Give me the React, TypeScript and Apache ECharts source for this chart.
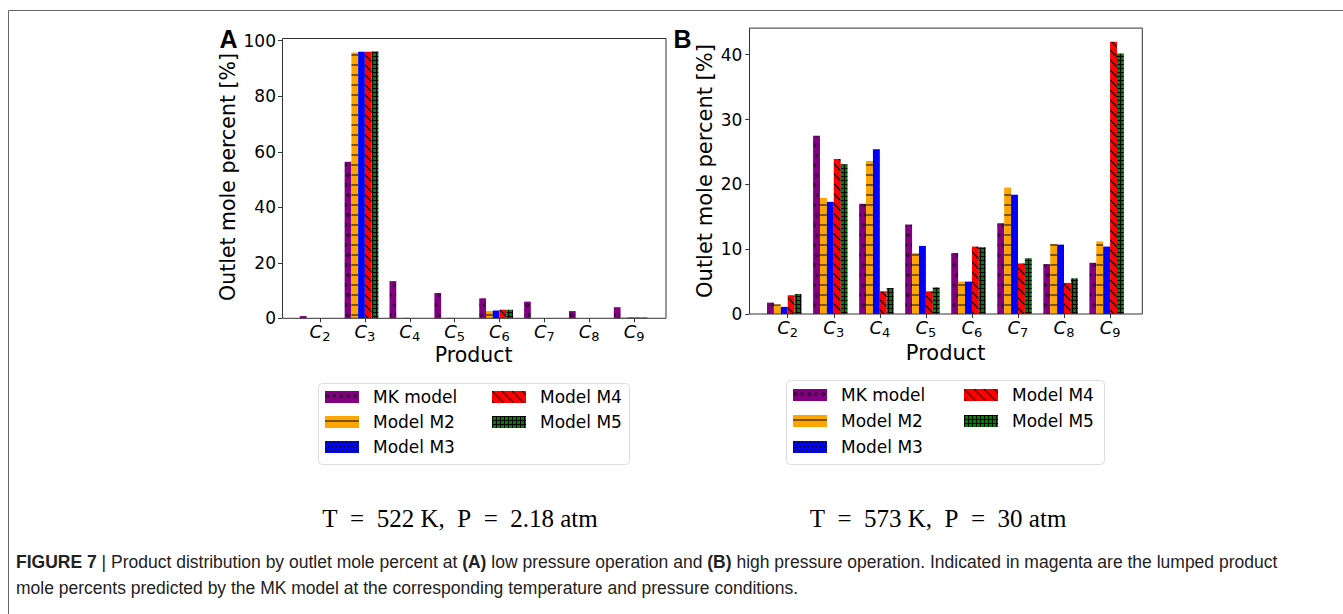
import React, { useEffect, useRef } from "react";
import * as echarts from "echarts";

// ---------- data ----------
const categories = ["C2", "C3", "C4", "C5", "C6", "C7", "C8", "C9"];
const seriesNames = ["MK model", "Model M2", "Model M3", "Model M4", "Model M5"];
const seriesColors = ["#800080", "#FFA500", "#0000FF", "#FF0000", "#008000"];

// (A) T = 522 K, P = 2.18 atm
const lowMK = [0.8, 56.4, 13.4, 9.1, 7.2, 6.0, 2.6, 4.0];
const lowM2 = [0, 95.8, 0.15, 0.15, 2.6, 0, 0, 0.3];
const lowM3 = [0, 96.0, 0.15, 0.15, 2.8, 0, 0, 0.3];
const lowM4 = [0, 96.0, 0, 0, 3.1, 0, 0, 0.3];
const lowM5 = [0, 96.1, 0, 0, 3.1, 0, 0, 0.3];
const lowTicks = [0, 20, 40, 60, 80, 100];
const lowMax = 100.8;

// (B) T = 573 K, P = 30 atm
const highMK = [1.75, 27.5, 17.0, 13.8, 9.4, 14.0, 7.7, 7.9];
const highM2 = [1.5, 17.9, 23.6, 9.4, 5.0, 19.5, 10.8, 11.2];
const highM3 = [1.1, 17.3, 25.4, 10.5, 5.0, 18.4, 10.7, 10.4];
const highM4 = [2.9, 23.9, 3.5, 3.5, 10.4, 7.8, 4.8, 42.0];
const highM5 = [3.1, 23.1, 4.0, 4.1, 10.3, 8.6, 5.5, 40.2];
const highTicks = [0, 10, 20, 30, 40];
const highMax = 44.1;

const conditionA = "T\u2002=\u2002522 K,\u2002P\u2002=\u20022.18 atm";
const conditionB = "T\u2002=\u2002573 K,\u2002P\u2002=\u200230 atm";

// ---------- hatch patterns (tile SVGs) ----------
const hatchTiles: { w: number; h: number; body: string }[] = [
  // MK model: sparse small open circles
  {
    w: 7,
    h: 20,
    body:
      "<circle cx='2.3' cy='5' r='1.4' fill='none' stroke='#000' stroke-width='0.8'/>" +
      "<circle cx='4.7' cy='15' r='1.4' fill='none' stroke='#000' stroke-width='0.8'/>",
  },
  // M2: horizontal lines
  { w: 8, h: 10, body: "<rect x='0' y='4.5' width='8' height='1' fill='#000'/>" },
  // M3: dots
  {
    w: 4,
    h: 8,
    body: "<rect x='0.8' y='1' width='1.1' height='1.1' fill='#000'/><rect x='2.8' y='5' width='1.1' height='1.1' fill='#000'/>",
  },
  // M4: back-slash diagonals
  { w: 10, h: 10, body: "<path d='M0,0L10,10M-2,8L2,12M8,-2L12,2' stroke='#000' stroke-width='1.1'/>" },
  // M5: dense plus grid
  { w: 4, h: 4, body: "<path d='M0,0.5H4M0.5,0V4' stroke='#000' stroke-width='1'/>" },
];

function hatchPattern(k: number) {
  const t = hatchTiles[k];
  const svg =
    `<svg xmlns='http://www.w3.org/2000/svg' width='${t.w}' height='${t.h}' viewBox='0 0 ${t.w} ${t.h}'>` +
    `<rect width='${t.w}' height='${t.h}' fill='${seriesColors[k]}'/>` +
    t.body +
    `</svg>`;
  return {
    image: "data:image/svg+xml;charset=utf-8," + encodeURIComponent(svg),
    repeat: "repeat",
    imageWidth: t.w,
    imageHeight: t.h,
  };
}

const FONT = "DejaVu Sans";

function buildOption() {
  const panels = [
    { data: [lowMK, lowM2, lowM3, lowM4, lowM5], ticks: lowTicks, max: lowMax, grid: { left: 297.6, top: 38.5, width: 358.9, height: 279.8 }, offset: 15.6, barWidth: 6.75, labelMargin: 6 },
    { data: [highMK, highM2, highM3, highM4, highM5], ticks: highTicks, max: highMax, grid: { left: 764.7, top: 28.1, width: 368.4, height: 285.9 }, offset: 15.4, barWidth: 6.9, labelMargin: 7 },
  ];

  const grid = panels.map((p) => ({ ...p.grid, containLabel: false }));
  const xAxis = panels.map((p, i) => ({
    type: "category",
    gridIndex: i,
    data: categories,
    boundaryGap: true,
    axisLine: { show: false },
    axisTick: { show: true, alignWithLabel: true, length: 4, lineStyle: { color: "#333" } },
    axisLabel: {
      interval: 0,
      margin: 4,
      formatter: (v: string) => `{c|${v.slice(0, 1)}}{s|${v.slice(1)}}`,
      rich: {
        c: { fontFamily: FONT, fontStyle: "italic", fontSize: 18, lineHeight: 18, color: "#000", verticalAlign: "top" },
        s: { fontFamily: FONT, fontSize: 13, lineHeight: 10, color: "#000", verticalAlign: "top", padding: [8, 0, 0, 0] },
      },
    },
    splitLine: { show: false },
  }));
  const yAxis = panels.map((p, i) => ({
    type: "value",
    gridIndex: i,
    min: 0,
    max: p.max,
    offset: p.offset,
    axisLine: { show: false },
    axisTick: { show: true, length: 4, lineStyle: { color: "#333" }, customValues: p.ticks },
    axisLabel: { customValues: p.ticks, fontFamily: FONT, fontSize: 17, color: "#000", margin: p.labelMargin },
    splitLine: { show: false },
  }));

  const patterns = seriesNames.map((_, k) => hatchPattern(k));

  const series: any[] = [];
  panels.forEach((p, i) => {
    p.data.forEach((vals, k) => {
      series.push({
        type: "bar",
        name: seriesNames[k],
        xAxisIndex: i,
        yAxisIndex: i,
        data: vals,
        barWidth: p.barWidth,
        barGap: "0%",
        silent: true,
        itemStyle: { color: patterns[k] },
      });
    });
    // empty slot: keeps the tick just right of the group centre, as in the original
    series.push({
      type: "bar",
      name: "_pad",
      xAxisIndex: i,
      yAxisIndex: i,
      data: categories.map(() => null),
      barWidth: p.barWidth,
      barGap: "0%",
      silent: true,
      itemStyle: { color: "#fff" },
    });
  });

  const legendText = { fontFamily: FONT, fontSize: 17, color: "#000", lineHeight: 20, padding: [0, 0, 0, 9] };
  const legendBase = { orient: "vertical", itemWidth: 34, itemHeight: 12, padding: 0, selectedMode: false, icon: "rect", textStyle: legendText, itemStyle: { borderWidth: 0 } };
  const legend = [
    { ...legendBase, data: seriesNames.slice(0, 3), left: 325, top: 387, itemGap: 5 },
    { ...legendBase, data: seriesNames.slice(3), left: 492, top: 387, itemGap: 5 },
    { ...legendBase, data: seriesNames.slice(0, 3), left: 793, top: 385, itemGap: 6 },
    { ...legendBase, data: seriesNames.slice(3), left: 964, top: 385, itemGap: 6 },
  ];

  const txt = (text: string, x: number, y: number, extra: any = {}, rotation = 0) => ({
    type: "text",
    x,
    y,
    rotation,
    z: 50,
    silent: true,
    style: { text, fontFamily: FONT, fontSize: 20, fill: "#000", align: "center", verticalAlign: "middle", ...extra },
  });

  const capSize = 17.5;
  const graphic: any[] = [
    // outer figure border (open to the right and bottom)
    { type: "rect", silent: true, z: 1, shape: { x: 8.5, y: 10.5, width: 1400, height: 700 }, style: { fill: "none", stroke: "#666", lineWidth: 1 } },
    // plot frames
    { type: "rect", silent: true, z: 100, shape: { x: 282.5, y: 38.5, width: 383.5, height: 279.8 }, style: { fill: "none", stroke: "#333", lineWidth: 1 } },
    { type: "rect", silent: true, z: 100, shape: { x: 749.5, y: 28.1, width: 392.8, height: 285.9 }, style: { fill: "none", stroke: "#333", lineWidth: 1 } },
    // legend boxes
    { type: "rect", silent: true, z: 1, shape: { x: 318.5, y: 383.5, width: 311, height: 81, r: 4 }, style: { fill: "#fff", stroke: "#ddd", lineWidth: 1 } },
    { type: "rect", silent: true, z: 1, shape: { x: 786.5, y: 380.5, width: 318, height: 84, r: 4 }, style: { fill: "#fff", stroke: "#ddd", lineWidth: 1 } },
    // panel letters
    txt("A", 228.5, 39, { fontFamily: "Liberation Sans", fontWeight: "bold", fontSize: 25 }),
    txt("B", 682.5, 39, { fontFamily: "Liberation Sans", fontWeight: "bold", fontSize: 25 }),
    // axis titles
    txt("Outlet mole percent [%]", 228, 177, { fontSize: 20.5 }, Math.PI / 2),
    txt("Outlet mole percent [%]", 705, 171, { fontSize: 21 }, Math.PI / 2),
    txt("Product", 473.7, 355, { fontSize: 20.5, lineHeight: 18 }),
    txt("Product", 945.7, 353, { fontSize: 21, lineHeight: 18 }),
    // conditions
    txt(conditionA, 460, 518, { fontFamily: "Liberation Serif", fontSize: 25 }),
    txt(conditionB, 938, 518, { fontFamily: "Liberation Serif", fontSize: 25 }),
    // caption
    txt(
      "{b|FIGURE 7 }{n|| Product distribution by outlet mole percent at }{b|(A)}{n| low pressure operation and }{b|(B)}{n| high pressure operation. Indicated in magenta are the lumped product}",
      16,
      562,
      {
        align: "left",
        fontFamily: "Liberation Sans",
        fontSize: capSize,
        rich: {
          b: { fontFamily: "Liberation Sans", fontSize: capSize, fontWeight: "bold", fill: "#222" },
          n: { fontFamily: "Liberation Sans", fontSize: capSize, fill: "#222" },
        },
      }
    ),
    txt("mole percents predicted by the MK model at the corresponding temperature and pressure conditions.", 16, 588, {
      align: "left",
      fontFamily: "Liberation Sans",
      fontSize: capSize,
      fill: "#222",
    }),
  ];

  return {
    animation: false,
    backgroundColor: "#fff",
    grid,
    xAxis,
    yAxis,
    series,
    legend,
    graphic,
  };
}

export default function App() {
  const ref = useRef<HTMLDivElement>(null);
  useEffect(() => {
    if (!ref.current) return;
    const chart = echarts.init(ref.current, undefined, { renderer: "svg" });
    chart.setOption(buildOption() as any);
    return () => chart.dispose();
  }, []);
  return (
    <div
      ref={ref}
      style={{ position: "fixed", left: 0, top: 0, width: 1343, height: 614, background: "#fff" }}
    />
  );
}
